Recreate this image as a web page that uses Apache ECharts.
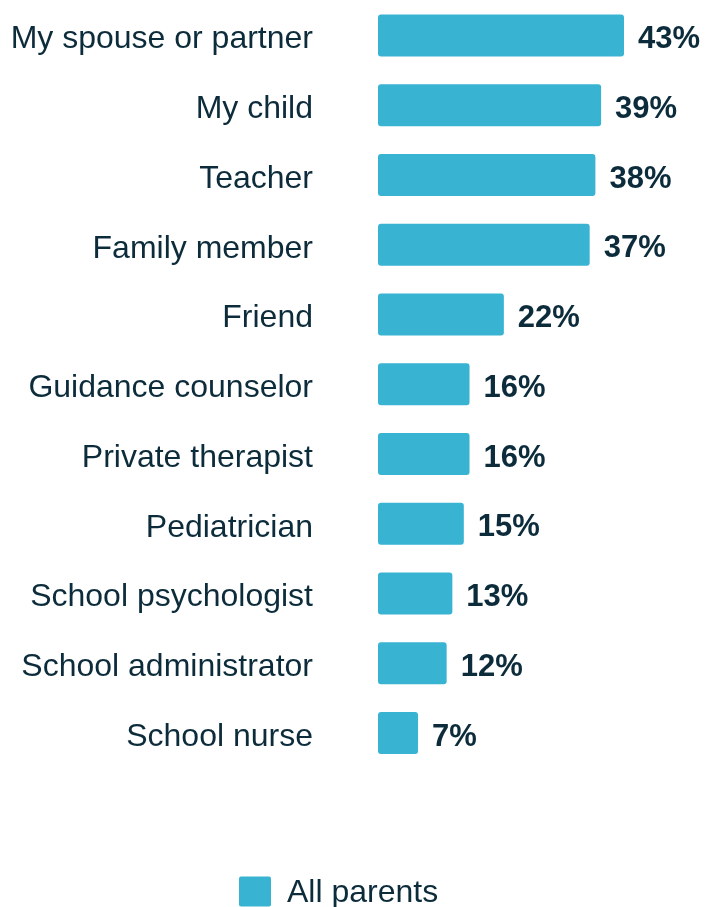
<!DOCTYPE html>
<html><head><meta charset="utf-8">
<script src="https://cdn.jsdelivr.net/npm/echarts@6/dist/echarts.min.js"></script>
<style>html,body{margin:0;padding:0;background:#fff}#c{width:714px;height:907px}</style>
</head><body><div id="c"></div>
<script>
const categories = ["My spouse or partner","My child","Teacher","Family member","Friend","Guidance counselor","Private therapist","Pediatrician","School psychologist","School administrator","School nurse"];
const allParents = [43,39,38,37,22,16,16,15,13,12,7];
const seriesName = "All parents";

const textColor = "#0d2c3b";
const barColor = "#38b3d2";
const font = "'Liberation Sans', Arial, sans-serif";

const chart = echarts.init(document.getElementById('c'));
chart.setOption({
  animation: false,
  legend: {
    data: [seriesName], left: 239, bottom: -2, padding: 0,
    itemWidth: 32, itemHeight: 30, itemGap: 16,
    icon: 'path://M2,0 L30,0 Q32,0 32,2 L32,28 Q32,30 30,30 L2,30 Q0,30 0,28 L0,2 Q0,0 2,0 Z',
    formatter: n => '{t|' + n + '}',
    textStyle: { rich: { t: { fontSize: 32, color: textColor, fontFamily: font, padding: [3, 0, 0, 11] } } }
  },
  grid: { left: 378, top: 0.6, width: 246, bottom: 139 },
  xAxis: { type: 'value', min: 0, max: 43, show: false },
  yAxis: {
    type: 'category', data: categories, inverse: true,
    axisLine: { show: false }, axisTick: { show: false },
    axisLabel: { margin: 65, formatter: v => '{a|' + v + '}',
      rich: { a: { fontSize: 32, color: textColor, fontFamily: font, padding: [8, 0, 0, 0] } } }
  },
  series: [{
    name: seriesName, type: 'bar', data: allParents, barWidth: 42,
    itemStyle: { color: barColor, borderRadius: 3 },
    label: { show: true, position: 'right', distance: 14, formatter: '{c}%', offset: [0, 4],
      fontSize: 31, fontWeight: 'bold', color: textColor, fontFamily: font }
  }]
});
</script></body></html>
